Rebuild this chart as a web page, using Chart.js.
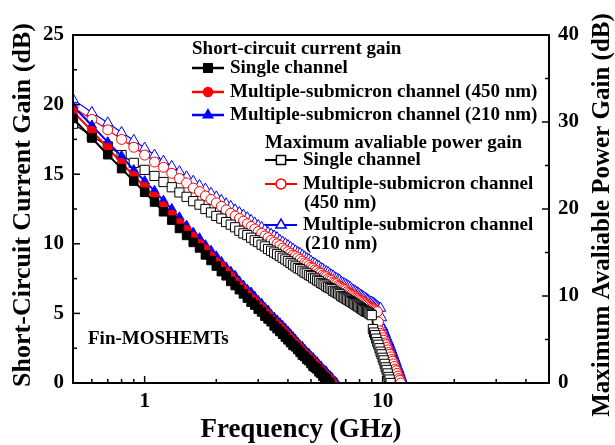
<!DOCTYPE html>
<html>
<head>
<meta charset="utf-8">
<script src="https://cdn.jsdelivr.net/npm/chart.js@4.4.1/dist/chart.umd.min.js"></script>
<style>
  body { margin: 0; background: #fff; }
</style>
</head>
<body>
<canvas id="gainChart" width="615" height="445"></canvas>
<script>
// ===== Data =====
const freqGHz = [
  0.5, 0.6, 0.7, 0.8, 0.9, 1.0, 1.1, 1.2, 1.3, 1.4,
  1.5, 1.6, 1.7, 1.8, 1.9, 2.0, 2.1, 2.2, 2.3, 2.4,
  2.5, 2.6, 2.7, 2.8, 2.9, 3.0, 3.1, 3.2, 3.3, 3.4,
  3.5, 3.6, 3.7, 3.8, 3.9, 4.0, 4.1, 4.2, 4.3, 4.4,
  4.5, 4.6, 4.7, 4.8, 4.9, 5.0, 5.1, 5.2, 5.3, 5.4,
  5.5, 5.6, 5.7, 5.8, 5.9, 6.0, 6.1, 6.2, 6.3, 6.4,
  6.5, 6.6, 6.7, 6.8, 6.9, 7.0, 7.1, 7.2, 7.3, 7.4,
  7.5, 7.6, 7.7, 7.8, 7.9, 8.0, 8.1, 8.2, 8.3, 8.4,
  8.5, 8.6, 8.7, 8.8, 8.9, 9.0, 9.1, 9.2, 9.3, 9.4,
  9.5, 9.6, 9.7, 9.8, 9.9, 10.0, 10.1, 10.2, 10.3, 10.4,
  10.5, 10.6, 10.7, 10.8, 10.9, 11.0, 11.1, 11.2, 11.3, 11.4,
  11.5, 11.6, 11.7, 11.8, 11.9, 12.0, 12.1, 12.2
];

// short-circuit current gain |h21| (left axis, dB)
const h21Single = [
  19.0, 17.6, 16.4, 15.4, 14.5, 13.7, 13.0, 12.3, 11.7, 11.1,
  10.6, 10.1, 9.7, 9.2, 8.8, 8.4, 8.0, 7.7, 7.3, 7.0,
  6.7, 6.4, 6.1, 5.8, 5.6, 5.3, 5.1, 4.8, 4.6, 4.4,
  4.1, 3.9, 3.7, 3.5, 3.3, 3.1, 2.9, 2.7, 2.6, 2.4,
  2.2, 2.0, 1.9, 1.7, 1.6, 1.4, 1.2, 1.1, 1.0, 0.8,
  0.7, 0.5, 0.4, 0.3, 0.1, 0.0
];
const h21Sub450 = [
  19.5, 18.1, 16.9, 15.8, 14.9, 14.1, 13.4, 12.7, 12.1, 11.5,
  11.0, 10.5, 10.0, 9.6, 9.1, 8.7, 8.4, 8.0, 7.7, 7.3,
  7.0, 6.7, 6.4, 6.1, 5.9, 5.6, 5.4, 5.1, 4.9, 4.6,
  4.4, 4.2, 4.0, 3.8, 3.6, 3.4, 3.2, 3.0, 2.8, 2.7,
  2.5, 2.3, 2.1, 2.0, 1.8, 1.7, 1.5, 1.4, 1.2, 1.1,
  0.9, 0.8, 0.6, 0.5, 0.4, 0.3, 0.1, 0.0
];
const h21Sub210 = [
  19.9, 18.5, 17.3, 16.3, 15.3, 14.5, 13.8, 13.1, 12.5, 11.9,
  11.3, 10.8, 10.4, 9.9, 9.5, 9.1, 8.7, 8.3, 8.0, 7.7,
  7.3, 7.0, 6.7, 6.5, 6.2, 5.9, 5.7, 5.4, 5.2, 4.9,
  4.7, 4.5, 4.3, 4.1, 3.9, 3.7, 3.5, 3.3, 3.1, 2.9,
  2.7, 2.6, 2.4, 2.2, 2.1, 1.9, 1.8, 1.6, 1.5, 1.3,
  1.2, 1.0, 0.9, 0.8, 0.6, 0.5, 0.4, 0.2, 0.1, 0.0
];

// maximum available power gain (right axis, dB)
const magSingle = [
  29.8, 28.4, 27.2, 26.2, 25.3, 24.5, 23.8, 23.1, 22.5, 21.9,
  21.4, 20.9, 20.5, 20.0, 19.6, 19.2, 18.9, 18.5, 18.2, 17.9,
  17.5, 17.2, 17.0, 16.7, 16.4, 16.2, 15.9, 15.7, 15.4, 15.2,
  15.0, 14.8, 14.6, 14.4, 14.2, 14.0, 13.8, 13.6, 13.4, 13.2,
  13.1, 12.9, 12.7, 12.6, 12.4, 12.3, 12.1, 12.0, 11.8, 11.7,
  11.5, 11.4, 11.3, 11.1, 11.0, 10.9, 10.8, 10.6, 10.5, 10.4,
  10.3, 10.2, 10.0, 9.9, 9.8, 9.7, 9.6, 9.5, 9.4, 9.3,
  9.2, 9.1, 9.0, 8.9, 8.8, 8.7, 8.6, 8.5, 8.4, 8.3,
  8.2, 8.2, 8.1, 8.0, 7.9, 7.8, 6.2, 5.8, 5.5, 5.1,
  4.7, 4.4, 4.0, 3.6, 3.3, 2.9, 2.6, 2.2, 1.8, 1.5,
  1.1, 0.7, 0.4, 0.0
];
const magSub450 = [
  31.7, 30.3, 29.1, 28.0, 27.1, 26.2, 25.4, 24.8, 24.1, 23.5,
  23.0, 22.4, 22.0, 21.5, 21.1, 20.7, 20.3, 19.9, 19.5, 19.2,
  18.9, 18.6, 18.3, 18.0, 17.7, 17.4, 17.2, 16.9, 16.7, 16.4,
  16.2, 16.0, 15.8, 15.5, 15.3, 15.1, 14.9, 14.7, 14.6, 14.4,
  14.2, 14.0, 13.8, 13.7, 13.5, 13.3, 13.2, 13.0, 12.9, 12.7,
  12.6, 12.4, 12.3, 12.2, 12.0, 11.9, 11.8, 11.6, 11.5, 11.4,
  11.2, 11.1, 11.0, 10.9, 10.8, 10.7, 10.5, 10.4, 10.3, 10.2,
  10.1, 10.0, 9.9, 9.8, 9.7, 9.6, 9.5, 9.4, 9.3, 9.2,
  9.1, 9.0, 8.9, 8.8, 8.7, 8.6, 8.6, 8.5, 8.4, 8.3,
  8.2, 7.0, 6.0, 5.7, 5.5, 5.2, 4.9, 4.6, 4.4, 4.1,
  3.8, 3.5, 3.3, 3.0, 2.7, 2.5, 2.2, 1.9, 1.6, 1.4,
  1.1, 0.8, 0.5, 0.3, 0.0
];
const magSub210 = [
  32.6, 31.1, 29.9, 28.8, 27.9, 27.0, 26.2, 25.5, 24.9, 24.3,
  23.7, 23.2, 22.7, 22.3, 21.8, 21.4, 21.0, 20.6, 20.3, 19.9,
  19.6, 19.3, 19.0, 18.7, 18.4, 18.1, 17.9, 17.6, 17.3, 17.1,
  16.9, 16.7, 16.4, 16.2, 16.0, 15.8, 15.6, 15.4, 15.2, 15.0,
  14.9, 14.7, 14.5, 14.3, 14.2, 14.0, 13.8, 13.7, 13.5, 13.4,
  13.2, 13.1, 12.9, 12.8, 12.7, 12.5, 12.4, 12.3, 12.1, 12.0,
  11.9, 11.8, 11.6, 11.5, 11.4, 11.3, 11.2, 11.1, 11.0, 10.8,
  10.7, 10.6, 10.5, 10.4, 10.3, 10.2, 10.1, 10.0, 9.9, 9.8,
  9.7, 9.6, 9.5, 9.4, 9.3, 9.3, 9.2, 9.1, 9.0, 8.9,
  8.8, 8.7, 8.6, 8.6, 7.5, 6.4, 6.1, 5.8, 5.5, 5.2,
  4.9, 4.7, 4.4, 4.1, 3.8, 3.5, 3.2, 2.9, 2.6, 2.3,
  2.0, 1.7, 1.5, 1.2, 0.9, 0.6, 0.3, 0.0
];

// ===== Ticks =====
const freqTicks = [1, 10];
const freqMinorTicks = [0.6, 0.7, 0.8, 0.9, 2, 3, 4, 5, 6, 7, 8, 9, 20, 30, 40];
const leftMinorTicks = [2.5, 7.5, 12.5, 17.5, 22.5];
const rightMinorTicks = [5, 15, 25, 35];

const SERIF = "'Liberation Serif', 'Times New Roman', serif";
const bold = size => 'bold ' + size + 'px ' + SERIF;

function toPoints(values) {
  return values.map((v, i) => ({ x: freqGHz[i], y: v }));
}

// ===== Legend / frame / inward ticks =====
const legendRows = [
  { kind: 'head', text: 'Short-circuit current gain', x: 192, y: 49 },
  { kind: 'item', text: 'Single channel', x: 192, y: 68, color: '#000', style: 'rect', r: 6, fill: '#000', lw: 2.5 },
  { kind: 'item', text: 'Multiple-submicron channel (450 nm)', x: 192, y: 92, color: '#ff0000', style: 'circle', r: 4.5, fill: '#ff0000', lw: 2.5 },
  { kind: 'item', text: 'Multiple-submicron channel (210 nm)', x: 192, y: 115, color: '#0000ff', style: 'triangle', r: 5.5, fill: '#0000ff', lw: 2.5 },
  { kind: 'head', text: 'Maximum avaliable power gain', x: 265, y: 143 },
  { kind: 'item', text: 'Single channel', x: 265, y: 160, color: '#000', style: 'rect', r: 6.5, fill: '#fff', lw: 2 },
  { kind: 'item', text: 'Multiple-submicron channel', x: 265, y: 184, color: '#ff0000', style: 'circle', r: 5, fill: '#fff', lw: 2 },
  { kind: 'text', text: '(450 nm)', x: 304, y: 203 },
  { kind: 'item', text: 'Multiple-submicron channel', x: 265, y: 225, color: '#0000ff', style: 'triangle', r: 6, fill: '#fff', lw: 2 },
  { kind: 'text', text: '(210 nm)', x: 305, y: 244 }
];

const decorPlugin = {
  id: 'decor',
  afterDraw(chart) {
    const { ctx, chartArea: a, scales } = chart;
    ctx.save();
    ctx.strokeStyle = '#000';
    ctx.fillStyle = '#000';

    // frame
    ctx.lineWidth = 2;
    ctx.strokeRect(a.left, a.top, a.right - a.left, a.bottom - a.top);

    // inward ticks
    ctx.lineWidth = 1.5;
    const tick = (x1, y1, x2, y2) => { ctx.beginPath(); ctx.moveTo(x1, y1); ctx.lineTo(x2, y2); ctx.stroke(); };
    freqTicks.forEach(v => { const x = scales.x.getPixelForValue(v); tick(x, a.bottom, x, a.bottom - 7); });
    freqMinorTicks.forEach(v => { const x = scales.x.getPixelForValue(v); tick(x, a.bottom, x, a.bottom - 4); });
    scales.y.ticks.forEach(t => { const y = scales.y.getPixelForValue(t.value); tick(a.left, y, a.left + 7, y); });
    leftMinorTicks.forEach(v => { const y = scales.y.getPixelForValue(v); tick(a.left, y, a.left + 4, y); });
    scales.y2.ticks.forEach(t => { const y = scales.y2.getPixelForValue(t.value); tick(a.right, y, a.right - 7, y); });
    rightMinorTicks.forEach(v => { const y = scales.y2.getPixelForValue(v); tick(a.right, y, a.right - 4, y); });

    // axis titles
    ctx.textAlign = 'center';
    ctx.textBaseline = 'middle';
    ctx.font = bold(27);
    ctx.fillText('Frequency (GHz)', 301, 430);

    ctx.font = bold(26);
    ctx.save();
    ctx.translate(23, 205);
    ctx.rotate(-Math.PI / 2);
    ctx.fillText('Short-Circuit Current Gain (dB)', 0, 0);
    ctx.restore();

    ctx.font = bold(25);
    ctx.save();
    ctx.translate(603, 215);
    ctx.rotate(-Math.PI / 2);
    ctx.fillText('Maximum Avaliable Power Gain (dB)', 0, 0);
    ctx.restore();

    // legend
    ctx.textAlign = 'left';
    ctx.font = bold(19);
    legendRows.forEach(row => {
      if (row.kind === 'item') {
        ctx.strokeStyle = row.color;
        ctx.lineWidth = row.lw;
        tick(row.x, row.y, row.x + 32, row.y);
        ctx.fillStyle = row.fill;
        ctx.strokeStyle = row.color;
        ctx.lineWidth = 1.5;
        Chart.helpers.drawPoint(ctx, { pointStyle: row.style, radius: row.r, rotation: 0, borderWidth: 1.5 }, row.x + 16, row.y);
        ctx.fillStyle = '#000';
        ctx.fillText(row.text, row.x + 38, row.y);
      } else {
        ctx.fillStyle = '#000';
        ctx.fillText(row.text, row.x, row.y);
      }
    });

    ctx.fillText('Fin-MOSHEMTs', 88, 339);
    ctx.restore();
  }
};

// ===== Chart =====
const ctx = document.getElementById('gainChart');
const tickFont = { family: SERIF, size: 21, weight: 'bold' };

new Chart(ctx, {
  type: 'line',
  data: {
    datasets: [
      { label: 'h21 single', data: toPoints(h21Single), yAxisID: 'y', order: 0,
        borderColor: '#000', backgroundColor: '#000', borderWidth: 2,
        pointStyle: 'rect', pointRadius: 6, pointBorderWidth: 1 },
      { label: 'h21 450', data: toPoints(h21Sub450), yAxisID: 'y', order: 1,
        borderColor: '#ff0000', backgroundColor: '#ff0000', borderWidth: 2,
        pointStyle: 'circle', pointRadius: 4.5, pointBorderWidth: 1 },
      { label: 'h21 210', data: toPoints(h21Sub210), yAxisID: 'y', order: 2,
        borderColor: '#0000ff', backgroundColor: '#0000ff', borderWidth: 2,
        pointStyle: 'triangle', pointRadius: 5.5, pointBorderWidth: 1 },
      { label: 'MAG single', data: toPoints(magSingle), yAxisID: 'y2', order: 3,
        borderColor: '#000', backgroundColor: '#fff', borderWidth: 1.2,
        pointStyle: 'rect', pointRadius: 6.5, pointBorderWidth: 1 },
      { label: 'MAG 450', data: toPoints(magSub450), yAxisID: 'y2', order: 4,
        borderColor: '#ff0000', backgroundColor: '#fff', borderWidth: 1.2,
        pointStyle: 'circle', pointRadius: 5, pointBorderWidth: 1 },
      { label: 'MAG 210', data: toPoints(magSub210), yAxisID: 'y2', order: 5,
        borderColor: '#0000ff', backgroundColor: '#fff', borderWidth: 1.2,
        pointStyle: 'triangle', pointRadius: 6, pointBorderWidth: 1 }
    ]
  },
  options: {
    responsive: false,
    animation: false,
    layout: { padding: { top: 35, left: 0, right: 0, bottom: 0 } },
    elements: { line: { tension: 0 } },
    plugins: { legend: { display: false }, tooltip: { enabled: false } },
    scales: {
      x: {
        type: 'logarithmic',
        min: 0.5,
        max: 50,
        afterFit: s => { s.height = 62; },
        afterBuildTicks: s => { s.ticks = freqTicks.map(v => ({ value: v })); },
        grid: { display: false, drawTicks: false },
        border: { display: false },
        ticks: { font: tickFont, color: '#000', padding: 6, maxRotation: 0, autoSkip: false,
                 callback: v => String(v) }
      },
      y: {
        position: 'left',
        min: 0,
        max: 25,
        afterFit: s => { s.width = 73; },
        grid: { display: false, drawTicks: false },
        border: { display: false },
        ticks: { stepSize: 5, font: tickFont, color: '#000', padding: 9 }
      },
      y2: {
        position: 'right',
        min: 0,
        max: 40,
        afterFit: s => { s.width = 66; },
        grid: { display: false, drawTicks: false },
        border: { display: false },
        ticks: { stepSize: 10, font: tickFont, color: '#000', padding: 9 }
      }
    }
  },
  plugins: [decorPlugin]
});
</script>
</body>
</html>
